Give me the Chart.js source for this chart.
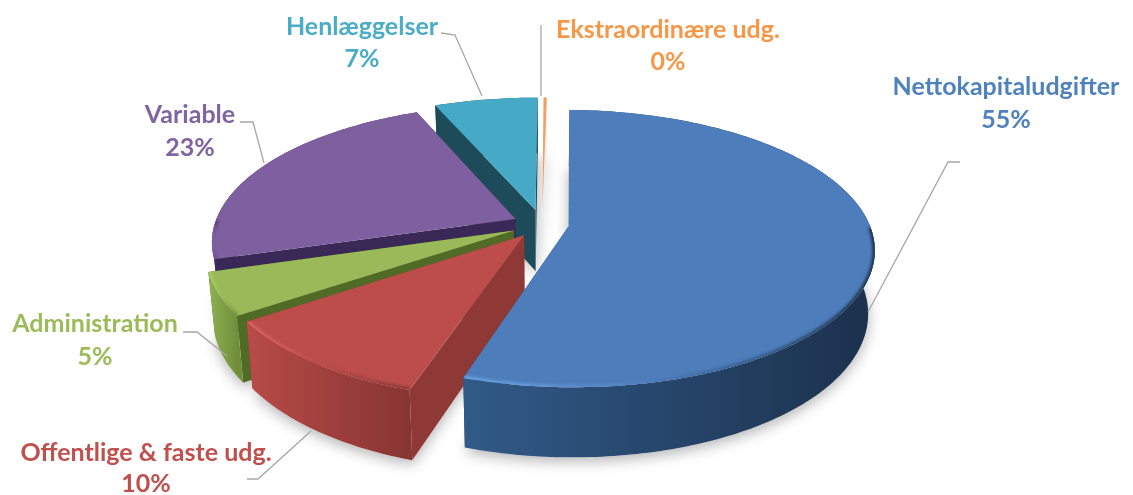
<!DOCTYPE html>
<html>
<head>
<meta charset="utf-8">
<title>Udgifter</title>
<script src="https://cdn.jsdelivr.net/npm/chart.js@4"></script>
<style>
    html, body { margin: 0; padding: 0; background: #fff; }
    canvas { display: block; }
</style>
</head>
<body>
<canvas id="pieChart" width="1133" height="495"></canvas>
<script>
const categories = ["Nettokapitaludgifter", "Offentlige & faste udg.", "Administration", "Variable", "Henlæggelser", "Ekstraordinære udg."];
const shares = [55, 10.4, 5, 23.4, 6.5, 0.2];

const topColors = ["#4d7ebb", "#bc4d4a", "#9aba59", "#7e5f9f", "#46a9c5", "#f0a060"];
const labelColors = ["#4f81bd", "#c0504d", "#9bbb59", "#8064a2", "#4bacc6", "#f79646"];
const innerWalls = ["#2a4a70", "#8e3936", "#4f6b26", "#3a2857", "#1d4b59", "#ececec"];
const wallLeft = ["#315a88", "#b84b48", "#8fb052", "#4a3468", "#1d4b59", "#ececec"];
const wallRight = ["#1b314c", "#863532", "#6f8e3a", "#3a2857", "#1d4b59", "#ececec"];
const bevels = ["#6ea4e6", "#e0696a", "#afd16a", "#7e5f9f", "#46a9c5", "#f0a060"];

// how far each slice is pulled out of the pie
const explode = [20, 22, 23, 22, 25, 25];

const labelPos = [[1006, 87, 120], [146, 453, 484], [95, 324, 357], [190, 115, 148], [362, 27, 59], [668, 30, 62]];
const leaders = [
    [[960, 162], [948, 162], [868, 312]],
    [[247, 479], [258, 479], [311, 431]],
    [[183, 332], [197, 332], [227, 356]],
    [[240, 122], [253, 122], [264, 163]],
    [[441, 33], [455, 35], [482, 96]],
    [[541, 25], [541, 96]]
];

// perspective of the tilted pie
const WIDTH_3D = 301;
const HEIGHT_3D = 134.5;
const PERSPECTIVE = 0.159;
const DRAW_ORDER = [5, 4, 3, 2, 1, 0];

function project(arc, u, v) {
    const k = 1 - PERSPECTIVE * v;
    return [arc.x + WIDTH_3D * u / k, arc.y + HEIGHT_3D * v / k];
}

// same point on the underside of the pie
function under(arc, p) {
    return [arc.x + (p[0] - arc.x) * 0.98, p[1] + 62 + (p[1] - arc.y) * 0.05];
}

function geometry(arc, i) {
    const r = arc.outerRadius;
    const mid = (arc.startAngle + arc.endAngle) / 2;
    const du = Math.cos(mid) * explode[i] / r;
    const dv = Math.sin(mid) * explode[i] / r;
    const rim = [];
    const steps = Math.max(2, Math.ceil((arc.endAngle - arc.startAngle) * 60));
    for (let n = 0; n <= steps; n++) {
        const a = arc.startAngle + (arc.endAngle - arc.startAngle) * n / steps;
        rim.push({ a: a, p: project(arc, Math.cos(a) + du, Math.sin(a) + dv) });
    }
    return { apex: project(arc, du, dv), rim: rim, front: rim.filter(q => Math.sin(q.a) > 0).map(q => q.p) };
}

function tracePoly(ctx, points) {
    ctx.beginPath();
    points.forEach((p, n) => n ? ctx.lineTo(p[0], p[1]) : ctx.moveTo(p[0], p[1]));
}

function facePoints(g) {
    return [g.apex].concat(g.rim.map(q => q.p));
}

function frontGradient(ctx, g, left, right, middle) {
    const xs = g.front.map(p => p[0]);
    const minX = xs.length ? Math.min(...xs) : g.apex[0] - 1;
    const maxX = xs.length ? Math.max(...xs) : g.apex[0] + 1;
    const grad = ctx.createLinearGradient(minX, 0, maxX + 1, 0);
    grad.addColorStop(0, left);
    if (middle) grad.addColorStop(0.45, middle);
    grad.addColorStop(1, right);
    return grad;
}

function drawSlice(ctx, arc, g, i) {
    const rim = g.rim.map(q => q.p);
    const lowApex = under(arc, g.apex);

    // cut faces
    ctx.fillStyle = innerWalls[i];
    [rim[0], rim[rim.length - 1]].forEach(p => {
        tracePoly(ctx, [g.apex, p, under(arc, p), lowApex]);
        ctx.closePath();
        ctx.fill();
    });

    // outer wall
    ctx.fillStyle = frontGradient(ctx, g, wallLeft[i], wallRight[i]);
    tracePoly(ctx, rim.concat(rim.slice().reverse().map(p => under(arc, p))));
    ctx.closePath();
    ctx.fill();

    // top face
    tracePoly(ctx, facePoints(g));
    ctx.closePath();
    ctx.fillStyle = topColors[i];
    ctx.fill();

    // soft highlight along the front rim
    if (g.front.length > 1) {
        ctx.save();
        tracePoly(ctx, facePoints(g));
        ctx.closePath();
        ctx.clip();
        ctx.filter = "blur(1.5px)";
        ctx.strokeStyle = frontGradient(ctx, g, bevels[i], wallRight[i], topColors[i]);
        ctx.lineWidth = 5;
        tracePoly(ctx, g.front);
        ctx.stroke();
        ctx.restore();
    }
}

const tiltedPie = {
    id: "tiltedPie",
    beforeDatasetsDraw(chart) {
        const ctx = chart.ctx;
        const arcs = chart.getDatasetMeta(0).data;

        // ground shadow
        ctx.save();
        ctx.shadowColor = "rgba(0,0,0,0.3)";
        ctx.shadowBlur = 14;
        ctx.shadowOffsetY = 4;
        ctx.fillStyle = "#ffffff";
        DRAW_ORDER.forEach(i => {
            const g = geometry(arcs[i], i);
            tracePoly(ctx, facePoints(g).map(p => under(arcs[i], p)));
            ctx.closePath();
            ctx.fill();
        });
        ctx.restore();

        DRAW_ORDER.forEach(i => drawSlice(ctx, arcs[i], geometry(arcs[i], i), i));
        return false;
    },
    afterDraw(chart) {
        const ctx = chart.ctx;
        ctx.save();
        ctx.strokeStyle = "#a6a6a6";
        ctx.lineWidth = 1.3;
        leaders.forEach(line => {
            tracePoly(ctx, line);
            ctx.stroke();
        });

        ctx.font = "bold 25px Lato";
        ctx.textAlign = "center";
        ctx.textBaseline = "middle";
        categories.forEach((name, i) => {
            ctx.fillStyle = labelColors[i];
            ctx.fillText(name, labelPos[i][0], labelPos[i][1]);
            ctx.fillText(Math.round(shares[i]) + "%", labelPos[i][0], labelPos[i][2]);
        });
        ctx.restore();
    }
};

new Chart(document.getElementById("pieChart"), {
    type: "pie",
    data: {
        labels: categories,
        datasets: [{ data: shares, backgroundColor: topColors, borderWidth: 0 }]
    },
    options: {
        responsive: false,
        animation: false,
        rotation: 1,
        // pie centre lands where the reference has it
        layout: { padding: { right: 49, bottom: 46 } },
        plugins: {
            legend: { display: false },
            tooltip: { enabled: false }
        }
    },
    plugins: [tiltedPie]
});
</script>
</body>
</html>
